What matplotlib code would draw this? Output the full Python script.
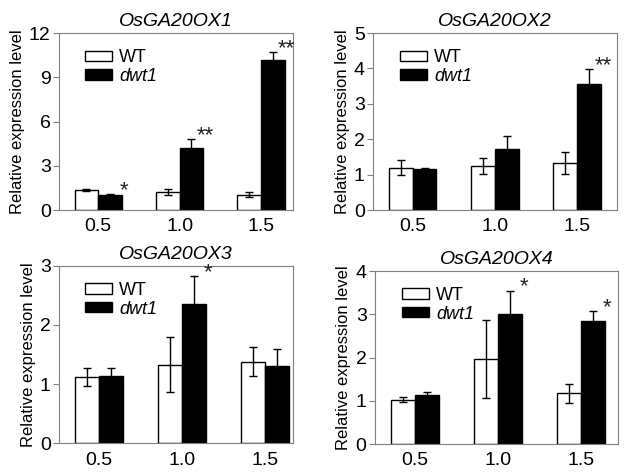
import numpy as np
import matplotlib
matplotlib.use("Agg")
import matplotlib.pyplot as plt

plt.rcParams['font.family'] = ['Liberation Sans', 'DejaVu Sans']

# x categories (shared by all panels)
categories = ['0.5', '1.0', '1.5']

# OsGA20OX1
wt_1 = [1.35, 1.2, 1.05]
wt_1_err = [0.05, 0.2, 0.15]
dwt_1 = [1.05, 4.2, 10.15]
dwt_1_err = [0.05, 0.6, 0.55]
stars_1 = ['*', '**', '**']

# OsGA20OX2
wt_2 = [1.2, 1.25, 1.33]
wt_2_err = [0.22, 0.22, 0.3]
dwt_2 = [1.15, 1.73, 3.57]
dwt_2_err = [0.04, 0.35, 0.42]
stars_2 = ['', '', '**']

# OsGA20OX3
wt_3 = [1.12, 1.33, 1.38]
wt_3_err = [0.15, 0.47, 0.24]
dwt_3 = [1.14, 2.36, 1.3]
dwt_3_err = [0.13, 0.46, 0.3]
stars_3 = ['', '*', '']

# OsGA20OX4
wt_4 = [1.03, 1.96, 1.18]
wt_4_err = [0.05, 0.9, 0.22]
dwt_4 = [1.14, 3.0, 2.84]
dwt_4_err = [0.07, 0.55, 0.24]
stars_4 = ['', '*', '*']

titles = ['OsGA20OX1', 'OsGA20OX2', 'OsGA20OX3', 'OsGA20OX4']
y_max = [12, 5, 3, 4]
y_step = [3, 1, 1, 1]

panels = [
    (wt_1, wt_1_err, dwt_1, dwt_1_err, stars_1),
    (wt_2, wt_2_err, dwt_2, dwt_2_err, stars_2),
    (wt_3, wt_3_err, dwt_3, dwt_3_err, stars_3),
    (wt_4, wt_4_err, dwt_4, dwt_4_err, stars_4),
]

# axes boxes [left, bottom, width, height] in figure fraction
boxes = [
    [0.092, 0.556, 0.364, 0.374],
    [0.581, 0.556, 0.380, 0.374],
    [0.092, 0.063, 0.364, 0.375],
    [0.584, 0.061, 0.379, 0.366],
]
x_right = [2.39, 2.48, 2.34, 2.45]

fig = plt.figure(figsize=(6.42, 4.73), dpi=100)
x = np.arange(len(categories))
w = 0.29
spine_col = '#808080'

for i, (wt, wt_err, dwt, dwt_err, stars) in enumerate(panels):
    ax = fig.add_axes(boxes[i])
    ax.bar(x - w / 2, wt, w, color='white', edgecolor='black', linewidth=1.0,
           yerr=wt_err, capsize=3, error_kw=dict(elinewidth=1.0, capthick=1.0),
           label='WT', zorder=2)
    ax.bar(x + w / 2, dwt, w, color='black', edgecolor='black', linewidth=1.0,
           yerr=dwt_err, capsize=3, error_kw=dict(elinewidth=1.0, capthick=1.0),
           label='dwt1', zorder=2)

    # significance marks
    for j, s in enumerate(stars):
        if s:
            top = dwt[j] + dwt_err[j]
            ax.annotate(s, (x[j] + w / 2, top), xytext=(10, -5),
                        textcoords='offset points', ha='center', va='bottom',
                        fontsize=16, color='#222222')

    ax.set_xlim(-0.48, x_right[i])
    ax.set_ylim(0, y_max[i])
    ax.set_yticks(np.arange(0, y_max[i] + 0.01, y_step[i]))
    ax.set_xticks(x)
    ax.set_xticklabels(categories)
    ax.tick_params(axis='x', length=0, labelsize=14, pad=6)
    ax.tick_params(axis='y', length=4, color=spine_col, labelsize=14, pad=2)
    for sp in ax.spines.values():
        sp.set_color(spine_col)
    ax.set_title(titles[i], fontsize=14, style='italic', pad=5)
    ax.set_ylabel('Relative expression level', fontsize=12, labelpad=3)

    leg = ax.legend(loc='upper left', bbox_to_anchor=(0.08, 0.95), frameon=False,
                    fontsize=13, handlelength=1.5, handleheight=0.5,
                    handletextpad=0.4, labelspacing=0.1, borderaxespad=0)
    leg.get_texts()[1].set_style('italic')

fig.savefig('out.png', dpi=100)
